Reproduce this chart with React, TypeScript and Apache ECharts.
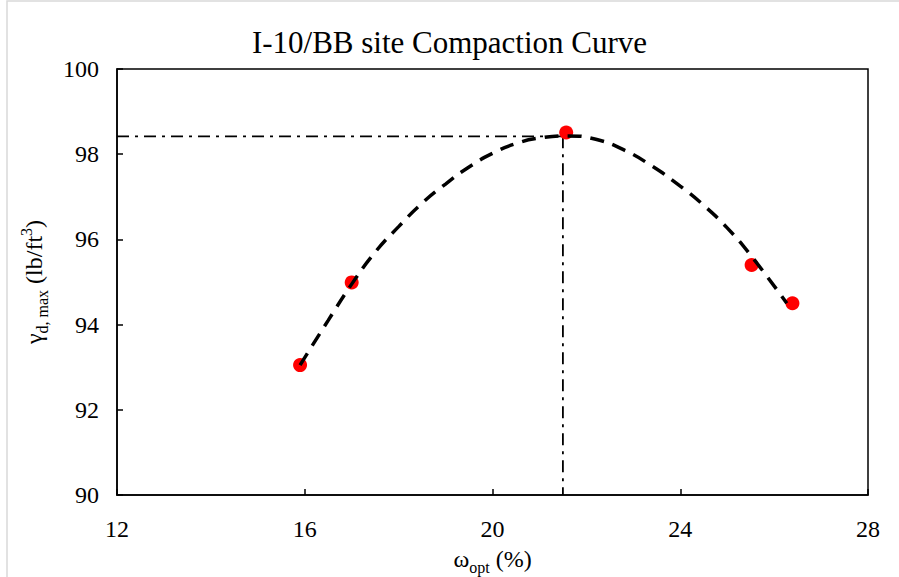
import React, { useEffect, useRef } from "react";
import * as echarts from "echarts";

const titleText = "I-10/BB site Compaction Curve";
const xTickMin = 12;
const xTickMax = 28;
const xTickStep = 4;
const yTickMin = 90;
const yTickMax = 100;
const yTickStep = 2;

const pointX = [15.9, 17.0, 21.57, 25.52, 26.39];
const pointY = [93.05, 94.99, 98.51, 95.4, 94.5];

const curveX = [15.9, 16.5, 17.0, 17.5, 18.0, 18.5, 19.0, 19.5, 20.0, 20.5, 21.0, 21.6, 22.2, 22.8, 23.4, 24.0, 24.5, 25.0, 25.5, 26.27];
const curveY = [93.05, 94.1, 94.95, 95.7, 96.3, 96.85, 97.3, 97.7, 98.02, 98.25, 98.38, 98.43, 98.35, 98.1, 97.72, 97.25, 96.8, 96.27, 95.63, 94.5];

const optX = 21.5;
const maxY = 98.42;
const hLineX = [12, optX];
const hLineY = [maxY, maxY];
const vLineX = [optX, optX];
const vLineY = [maxY, 90];

const zip = (a: number[], b: number[]) => a.map((v, i) => [v, b[i]]);

const FONT = "Liberation Serif";

export default function App() {
  const ref = useRef<HTMLDivElement>(null);
  useEffect(() => {
    if (!ref.current) return;
    const chart = echarts.init(ref.current, null, { renderer: "svg" });
    chart.setOption({
      animation: false,
      backgroundColor: "#fff",
      textStyle: { fontFamily: FONT, color: "#000" },
      title: {
        text: titleText,
        left: "center",
        top: 22,
        textStyle: { fontFamily: FONT, fontSize: 31, fontWeight: "normal", color: "#000" },
      },
      graphic: [
        {
          type: "rect",
          shape: { x: 7, y: 1, width: 900, height: 600 },
          style: { fill: "none", stroke: "#d9d9d9", lineWidth: 1.5 },
          silent: true,
          z: -1,
        },
      ],
      grid: {
        left: 117,
        right: 31,
        top: 69,
        bottom: 82,
        outerBoundsMode: "none",
        containLabel: false,
        show: true,
        borderColor: "#000",
        borderWidth: 1.5,
        backgroundColor: "transparent",
      },
      xAxis: {
        type: "value",
        min: xTickMin,
        max: xTickMax,
        interval: xTickStep,
        name: "{a|ω}{s|opt}{a| (%)}",
        nameLocation: "middle",
        nameGap: 48,
        nameTextStyle: {
          fontFamily: FONT,
          rich: {
            a: { fontFamily: FONT, fontSize: 24, color: "#000", lineHeight: 32 },
            s: { fontFamily: FONT, fontSize: 16, color: "#000", lineHeight: 16, verticalAlign: "bottom" },
          },
        },
        axisLine: { show: true, lineStyle: { color: "#000", width: 1.5 } },
        axisTick: { show: true, inside: true, length: 6, lineStyle: { color: "#000", width: 1.5 } },
        axisLabel: {
          margin: 22,
          fontFamily: FONT,
          fontSize: 24,
          fontWeight: "normal",
          fontStyle: "normal",
          color: "#000",
        },
        splitLine: { show: false },
      },
      yAxis: {
        type: "value",
        min: yTickMin,
        max: yTickMax,
        interval: yTickStep,
        name: "{a|γ}{s|d, max}{a| (lb/ft}{p|3}{a|)}",
        nameLocation: "middle",
        nameGap: 67,
        nameRotate: 90,
        nameTextStyle: {
          fontFamily: FONT,
          rich: {
            a: { fontFamily: FONT, fontSize: 24, color: "#000", lineHeight: 32 },
            s: { fontFamily: FONT, fontSize: 16, color: "#000", lineHeight: 16, verticalAlign: "bottom" },
            p: { fontFamily: FONT, fontSize: 16, color: "#000", lineHeight: 16, verticalAlign: "top" },
          },
        },
        axisLine: { show: true, lineStyle: { color: "#000", width: 1.5 } },
        axisTick: { show: true, inside: true, length: 6, lineStyle: { color: "#000", width: 1.5 } },
        axisLabel: {
          margin: 18,
          fontFamily: FONT,
          fontSize: 24,
          fontWeight: "normal",
          fontStyle: "normal",
          color: "#000",
        },
        splitLine: { show: false },
      },
      series: [
        {
          type: "line",
          data: zip(hLineX, hLineY),
          symbol: "none",
          lineStyle: { color: "#000", width: 1.8, type: [12, 6, 3, 6] },
          z: 2,
        },
        {
          type: "line",
          data: zip(vLineX, vLineY),
          symbol: "none",
          lineStyle: { color: "#000", width: 1.8, type: [12, 6, 3, 6] },
          z: 2,
        },
        {
          type: "scatter",
          data: zip(pointX, pointY),
          symbol: "circle",
          symbolSize: 14,
          itemStyle: { color: "#ff0000", opacity: 1 },
          z: 3,
        },
        {
          type: "line",
          data: zip(curveX, curveY),
          symbol: "none",
          smooth: 0.5,
          lineStyle: { color: "#000", width: 3.5, type: [14, 9] },
          z: 4,
        },
      ],
    });
    return () => chart.dispose();
  }, []);
  return (
    <div
      ref={ref}
      style={{ position: "absolute", left: 0, top: 0, width: 899, height: 577 }}
    />
  );
}
